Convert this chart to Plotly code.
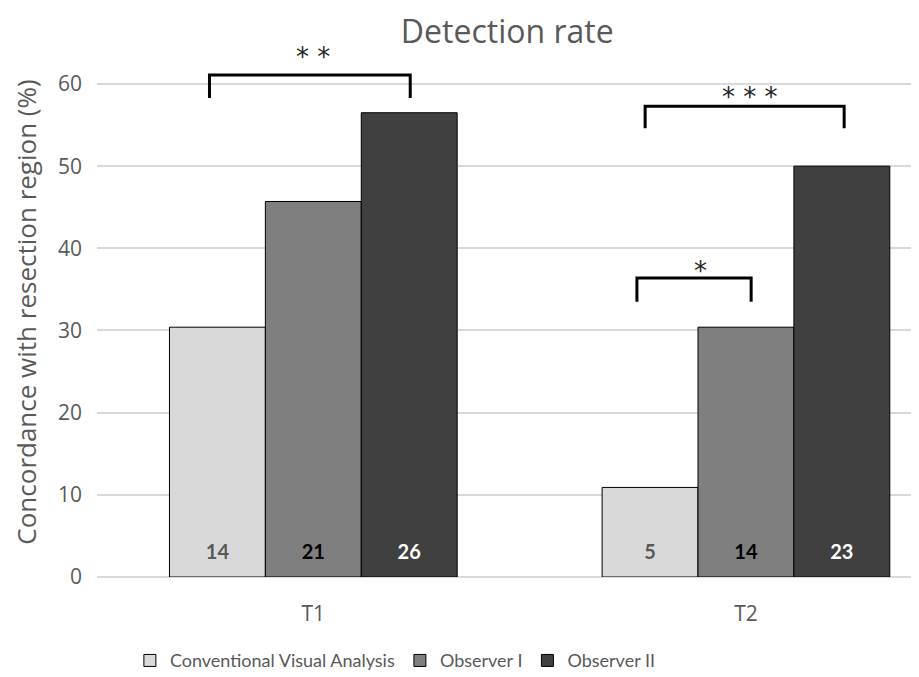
import plotly.graph_objects as go

categories = ["T1", "T2"]
series_names = ["Conventional Visual Analysis", "Observer I", "Observer II"]
cva_values = [30.4, 10.9]
obs1_values = [45.7, 30.4]
obs2_values = [56.5, 50.0]
cva_counts = ["14", "5"]
obs1_counts = ["21", "14"]
obs2_counts = ["26", "23"]
y_ticks = [0, 10, 20, 30, 40, 50, 60]

fills = ["#D9D9D9", "#7F7F7F", "#404040"]
text_colors = ["#595959", "#000000", "#FFFFFF"]
label_level = 2.75  # height (data units) at which the count labels sit

fig = go.Figure()
for i, (name, vals, fc) in enumerate(zip(series_names,
                                         [cva_values, obs1_values, obs2_values],
                                         fills)):
    fig.add_trace(go.Bar(
        x=categories, y=vals, name=name, offsetgroup=str(i),
        marker=dict(color=fc, line=dict(color="#000000", width=1)),
        hoverinfo="skip",
    ))
for i, (name, counts, tc) in enumerate(zip(series_names,
                                           [cva_counts, obs1_counts, obs2_counts],
                                           text_colors)):
    fig.add_trace(go.Scatter(
        x=categories, y=[label_level] * len(categories), mode="text",
        text=counts, offsetgroup=str(i), showlegend=False,
        textposition="middle center",
        textfont=dict(family="Lato", size=20, color=tc, weight="bold"),
        hoverinfo="skip", cliponaxis=False,
    ))

# significance brackets (x in category units: T1=0, T2=1)
brackets = [
    (-0.24, 0.224, 58.3, 61.1, "* *", 63.3, 0.0),
    (0.767, 1.227, 54.6, 57.3, "* * *", 58.4, 1.009),
    (0.748, 1.012, 33.5, 36.4, "*", 37.2, 0.894),
]
for x0, x1, yb, yt, lab, ylab, xlab in brackets:
    fig.add_shape(type="path",
                  path=f"M {x0} {yb} L {x0} {yt} L {x1} {yt} L {x1} {yb}",
                  xref="x", yref="y",
                  line=dict(color="#000000", width=3), layer="above")
    fig.add_annotation(x=xlab, y=ylab, xref="x", yref="y", text=lab,
                       showarrow=False, yanchor="middle",
                       font=dict(family="DejaVu Sans", size=26, color="#262626"))

fig.update_layout(
    width=911, height=669,
    margin=dict(l=89, r=0, t=39, b=100, autoexpand=False),
    paper_bgcolor="white", plot_bgcolor="white",
    barmode="group", bargap=0.335, bargroupgap=0,
    scattermode="group", scattergap=0.335,
    title=dict(text="Detection rate", x=0.548, xanchor="center", y=0.964,
               yanchor="middle", xref="container", yref="container",
               font=dict(family="Open Sans", size=32, color="#595959")),
    legend=dict(orientation="h", x=0.363, xanchor="center", y=-0.158,
                yanchor="middle",
                font=dict(family="Lato", size=18, color="#595959"),
                itemwidth=30, tracegroupgap=0),
    showlegend=True,
)
fig.update_xaxes(range=[-0.5, 1.4], showgrid=False, showline=False,
                 ticks="", tickfont=dict(family="Open Sans", size=21, color="#595959"),
                 ticklabelstandoff=22)
fig.update_yaxes(range=[0, 64.5], tickvals=y_ticks, showgrid=True,
                 gridcolor="#D9D9D9", gridwidth=1.5, zeroline=True,
                 zerolinecolor="#D9D9D9", zerolinewidth=1.5, showline=False,
                 tickfont=dict(family="Open Sans", size=21, color="#595959"),
                 ticklabelstandoff=14,
                 title=dict(text="Concordance with resection region (%)",
                            standoff=14,
                            font=dict(family="Open Sans", size=26, color="#595959")))

fig.write_html("out.html")
